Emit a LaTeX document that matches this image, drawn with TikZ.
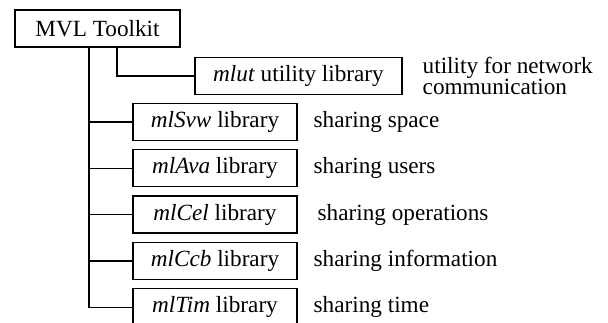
\documentclass[tikz,border=0pt]{standalone}
\usepackage{fontspec}
\setmainfont{Liberation Serif}
\begin{document}
\begin{tikzpicture}[x=1pt,y=1pt,line width=1.4pt,
  box/.style={draw,minimum height=37pt,inner sep=0pt},
  libbox/.style={box,minimum width=164pt},
  desc/.style={anchor=west,inner sep=0pt,align=left}]
\pgfmathsetmacro{\tx}{89}
\pgfmathsetmacro{\ux}{117}
\pgfmathsetmacro{\dy}{46.3}
\fontsize{23.2}{20}\selectfont
\clip (0,0) rectangle (608,-323);
%toolkit
\node[box,minimum width=165pt] (mvl) at (97.5,-28.5) {MVL Toolkit};
\coordinate (tr) at (\tx,0);
\coordinate (ur) at (\ux,0);
%utility
\node[box,minimum width=207pt] (mlut) at (298.5,-76) {\textit{mlut} utility library};
\node[desc] (utdesc) at (422,-76) {utility for network\\communication};
%libraries
\foreach \n/\t/\o [count=\i] in {Svw/space/313,Ava/users/313,Cel/operations/317,Ccb/information/313,Tim/time/313}{
  \node[libbox] (\n) at (215,{-122-\dy*(\i-1)}) {\textit{ml\n} library};
  \node[desc] (\n desc) at (\o,{-122-\dy*(\i-1)}) {sharing \t};
  \draw (tr |- \n.west) -- (\n.west);
}
%tree
\draw (mvl.south -| tr) |- (Tim.west);
\draw (mvl.south -| ur) |- (mlut.west);
\end{tikzpicture}
\end{document}
